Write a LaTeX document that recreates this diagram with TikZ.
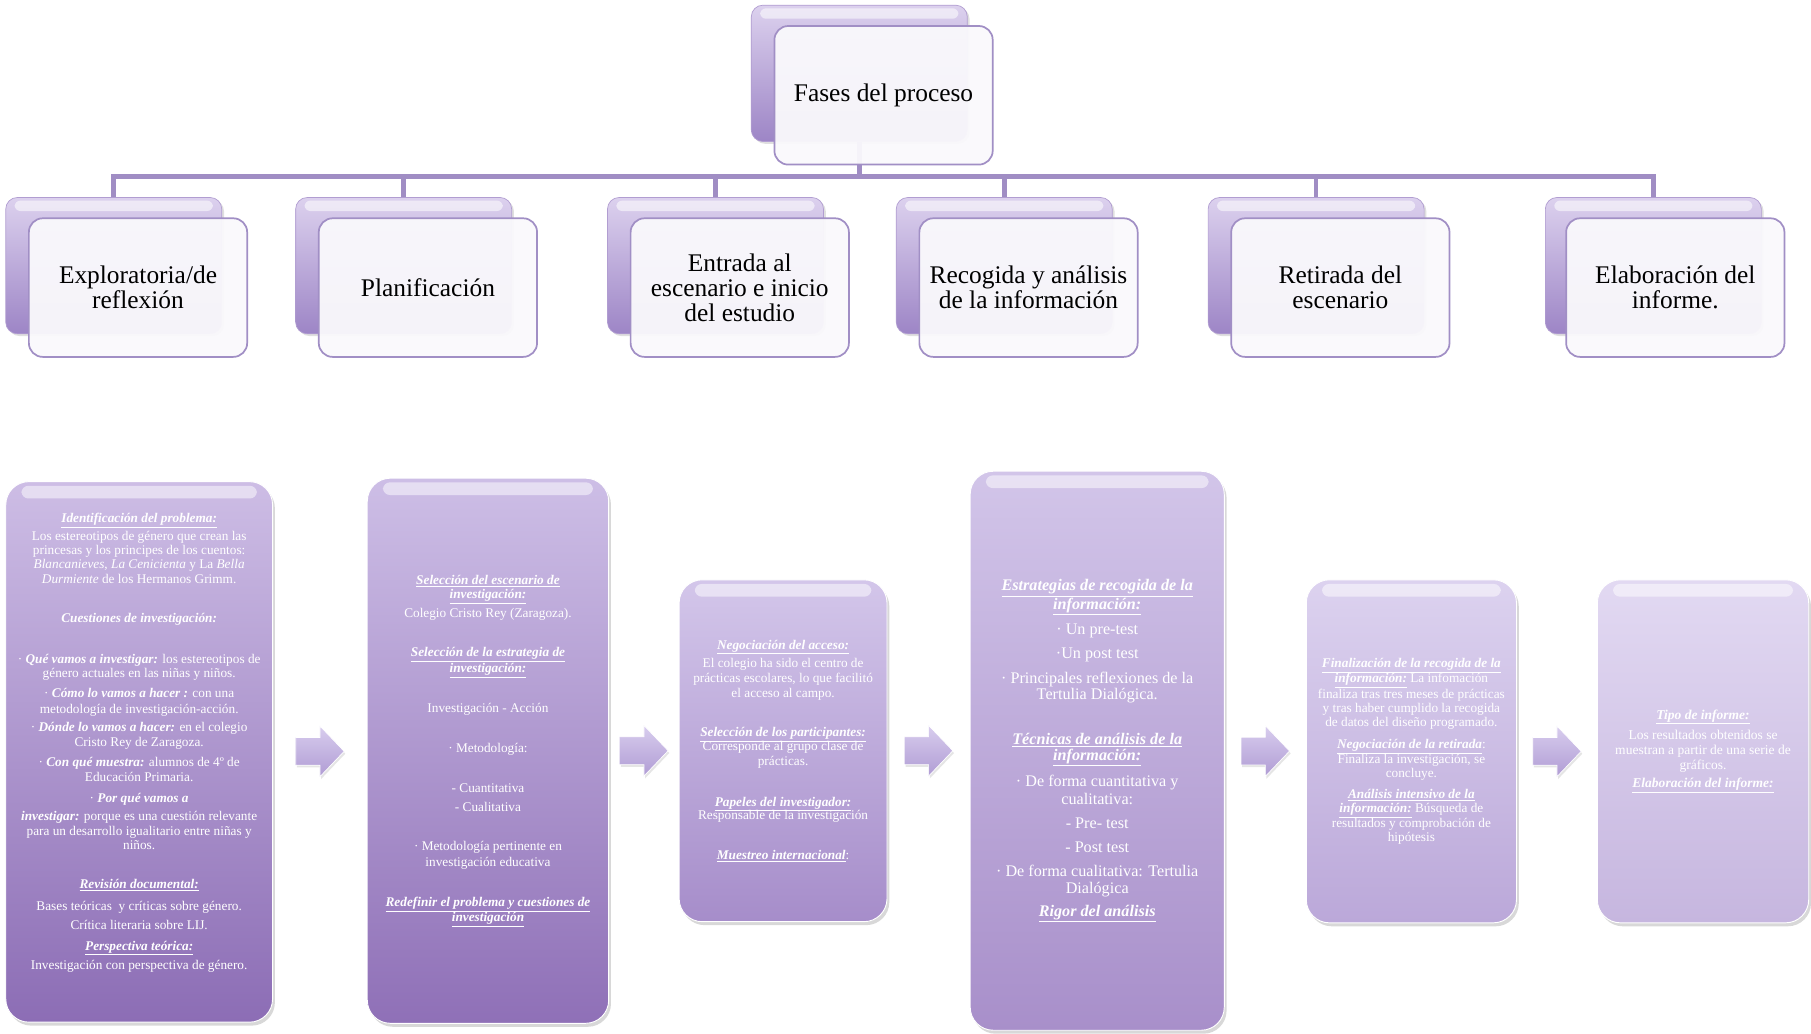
\documentclass[tikz,border=0pt]{standalone}
\usepackage{fontspec}
\setmainfont{Liberation Serif}
\usetikzlibrary{positioning, arrows.meta, shadows, calc}
\definecolor{lila}{HTML}{A08DC4}
\definecolor{fondoA}{HTML}{DCD1EE}
\definecolor{fondoB}{HTML}{9D85C6}
\definecolor{frenteR}{HTML}{FAF9FC}
\definecolor{frenteD}{HTML}{A18FC5}
\definecolor{flechaA}{HTML}{D8CDEE}
\definecolor{flechaB}{HTML}{B09CD4}
\definecolor{c1a}{HTML}{CDBDE5}\definecolor{c1b}{HTML}{8C6DB5}
\definecolor{c2a}{HTML}{CDBEE6}\definecolor{c2b}{HTML}{8F70B7}
\definecolor{c3a}{HTML}{D3C6EA}\definecolor{c3b}{HTML}{A68DCA}
\definecolor{c4a}{HTML}{D2C5E9}\definecolor{c4b}{HTML}{A88FCA}
\definecolor{c5a}{HTML}{DCD2EF}\definecolor{c5b}{HTML}{BBA8D9}
\definecolor{c6a}{HTML}{E2D9F2}\definecolor{c6b}{HTML}{C6B6DF}
\tikzset{rama/.style={line width=4pt, draw=lila}}
\tikzset{fondo/.style={rectangle, rounded corners=10pt, minimum width=187pt, minimum height=118pt, top color=fondoA, bottom color=fondoB, draw=fondoB!80!white, line width=0.6pt, drop shadow={opacity=0.25, shadow xshift=2pt, shadow yshift=-2pt}}}
\tikzset{frente/.style={rectangle, rounded corners=12pt, minimum width=189pt, minimum height=120pt, fill=frenteR, fill opacity=0.95, text opacity=1, draw=frenteD, line width=1.5pt, align=center, text=black, font=\fontsize{22}{21.5}\selectfont}}
\tikzset{caja/.style 2 args={rectangle, rounded corners=20pt, align=center, text=white, top color=#1, bottom color=#2, draw=white, line width=0.8pt, drop shadow={opacity=0.3, shadow xshift=2pt, shadow yshift=-3pt}}}
\tikzset{brillo/.style={white, opacity=0.55, rounded corners=5pt}}
\tikzset{flecha/.style={top color=flechaA, bottom color=flechaB, draw=white, line width=0.6pt, drop shadow={opacity=0.2, shadow xshift=1pt, shadow yshift=-2pt}}}
\newcommand{\tit}[1]{\underline{\textbf{\textit{#1}}}}
\begin{document}
\begin{tikzpicture}[x=1pt, y=-1pt]
\useasboundingbox (0,0) rectangle (1568,895);
\fill[white] (0,0) rectangle (1568,895);

\node[fondo](p0) at (744,63.5) {};
\node[fondo](p1) at (98.5,230) {};
\node[fondo](p2) at (349.5,230) {};
\node[fondo](p3) at (619.5,230) {};
\node[fondo](p4) at (869.5,230) {};
\node[fondo](p5) at (1139.5,230) {};
\node[fondo](p6) at (1431.5,230) {};
\foreach \n in {0,...,6}
  \fill[brillo] ([xshift=8pt,yshift=-3pt]p\n.north west) rectangle ([xshift=-8pt,yshift=-12pt]p\n.north east);

\coordinate (bus) at (744,153);
\foreach \i in {1,...,6}
  \draw[rama] (p0.south) |- (bus) -| (p\i.north);

\node[frente, xshift=21pt, yshift=-19pt](t0) at (p0) {Fases del proceso};
\node[frente, xshift=21pt, yshift=-19pt](t1) at (p1) {Exploratoria/de\\reflexión};
\node[frente, xshift=21pt, yshift=-19pt](t2) at (p2) {Planificación};
\node[frente, xshift=21pt, yshift=-19pt](t3) at (p3) {Entrada al\\escenario e inicio\\del estudio};
\node[frente, xshift=21pt, yshift=-19pt](t4) at (p4) {Recogida y análisis\\de la información};
\node[frente, xshift=21pt, yshift=-19pt](t5) at (p5) {Retirada del\\escenario};
\node[frente, xshift=19pt, yshift=-19pt](t6) at (p6) {Elaboración del\\informe.};

\node[caja={c1a}{c1b}, minimum width=231pt, minimum height=468pt, font=\fontsize{11.5}{12.5}\selectfont](b1) at (120.5,651) {%
\tit{Identificación del problema:}\\[2.5pt]
Los estereotipos de género que crean las\\
princesas y los principes de los cuentos:\\
\textit{Blancanieves}, \textit{La Cenicienta} y La \textit{Bella}\\
\textit{Durmiente} de los Hermanos Grimm.\\[21.5pt]
\textbf{\textit{Cuestiones de investigación:}}\\[22.5pt]
· \textbf{\textit{Qué vamos a investigar:}} los estereotipos de\\
género actuales en las niñas y niños.\\[4.5pt]
· \textbf{\textit{Cómo lo vamos a hacer :}} con una\\[1.5pt]
metodología de investigación-acción.\\[3.5pt]
· \textbf{\textit{Dónde lo vamos a hacer:}} en el colegio\\
Cristo Rey de Zaragoza.\\[5.5pt]
· \textbf{\textit{Con qué muestra:}} alumnos de 4º de\\
Educación Primaria.\\[5.5pt]
· \textbf{\textit{Por qué vamos a}}\\[3.5pt]
\textbf{\textit{investigar:}} porque es una cuestión relevante\\
para un desarrollo igualitario entre niñas y\\
niños.\\[21.5pt]
\tit{Revisión documental:}\\[6.5pt]
Bases teóricas \ y críticas sobre género.\\[3.5pt]
Crítica literaria sobre LIJ.\\[5.5pt]
\tit{Perspectiva teórica:}\\[4.5pt]
Investigación con perspectiva de género.\\[5.5pt]
\mbox{}};

\node[caja={c2a}{c2b}, minimum width=209pt, minimum height=472pt, font=\fontsize{11.5}{12.5}\selectfont](b2) at (422.5,650) {%
\tit{Selección del escenario de}\\
\tit{investigación:}\\[3.5pt]
Colegio Cristo Rey (Zaragoza).\\[21.5pt]
\tit{Selección de la estrategia de}\\[1.5pt]
\tit{investigación:}\\[22.5pt]
Investigación - Acción\\[21.5pt]
· Metodología:\\[22.5pt]
- Cuantitativa\\[3.5pt]
- Cualitativa\\[21.5pt]
· Metodología pertinente en\\[1.5pt]
investigación educativa\\[22.5pt]
\tit{Redefinir el problema y cuestiones de}\\
\tit{investigación}};

\node[caja={c3a}{c3b}, minimum width=180pt, minimum height=296pt, font=\fontsize{11.5}{13}\selectfont](b3) at (678,650) {%
\tit{Negociación del acceso:}\\[3pt]
El colegio ha sido el centro de\\
prácticas escolares, lo que facilitó\\
el acceso al campo.\\[21pt]
\tit{Selección de los participantes:}\\[-1pt]
Corresponde al grupo clase de\\
prácticas.\\[22pt]
\tit{Papeles del investigador:}\\[-1pt]
Responsable de la investigación\\[21pt]
\tit{Muestreo internacional}:};

\node[caja={c4a}{c4b}, minimum width=220pt, minimum height=484pt, font=\fontsize{14}{14}\selectfont](b4) at (950,650) {%
\tit{Estrategias de recogida de la}\\
\tit{información:}\\[7pt]
· Un pre-test\\[7pt]
·Un post test\\[7pt]
· Principales reflexiones de la\\
Tertulia Dialógica.\\[25pt]
\tit{Técnicas de análisis de la}\\
\tit{información:}\\[7pt]
· De forma cuantitativa y\\[1pt]
cualitativa:\\[7pt]
- Pre- test\\[7pt]
- Post test\\[7pt]
· De forma cualitativa: Tertulia\\
Dialógica\\[6pt]
\tit{Rigor del análisis}};

\node[caja={c5a}{c5b}, minimum width=182pt, minimum height=297pt, font=\fontsize{11.5}{12}\selectfont](b5) at (1222,650.5) {%
\tit{Finalización de la recogida de la}\\
\tit{información:} La infomación\\
finaliza tras tres meses de prácticas\\
y tras haber cumplido la recogida\\
de datos del diseño programado.\\[7pt]
\tit{Negociación de la retirada}:\\
Finaliza la investigación, se\\
concluye.\\[6pt]
\tit{Análisis intensivo de la}\\
\tit{información:} Búsqueda de\\
resultados y comprobación de\\
hipótesis};

\node[caja={c6a}{c6b}, minimum width=183pt, minimum height=297pt, font=\fontsize{11.7}{12.5}\selectfont](b6) at (1474.5,650.5) {%
\tit{Tipo de informe:}\\[4.5pt]
Los resultados obtenidos se\\
muestran a partir de una serie de\\[0.5pt]
gráficos.\\[3.5pt]
\tit{Elaboración del informe:}};

\foreach \n in {1,...,6}
  \fill[brillo, opacity=0.5, rounded corners=6pt] ([xshift=14pt,yshift=-4pt]b\n.north west) rectangle ([xshift=-14pt,yshift=-15pt]b\n.north east);

\foreach \i/\j in {1/2,2/3,3/4,4/5,5/6}{
  \coordinate (a\i) at ($(b\i.east)!0.5!(b\j.west)$);
  \shade[flecha] ([shift={(-21,-12)}]a\i) -- ++(21,0) -- ++(0,-10) -- ++(21,22) -- ++(-21,22) -- ++(0,-10) -- ++(-21,0) -- cycle;
}
\end{tikzpicture}
\end{document}
